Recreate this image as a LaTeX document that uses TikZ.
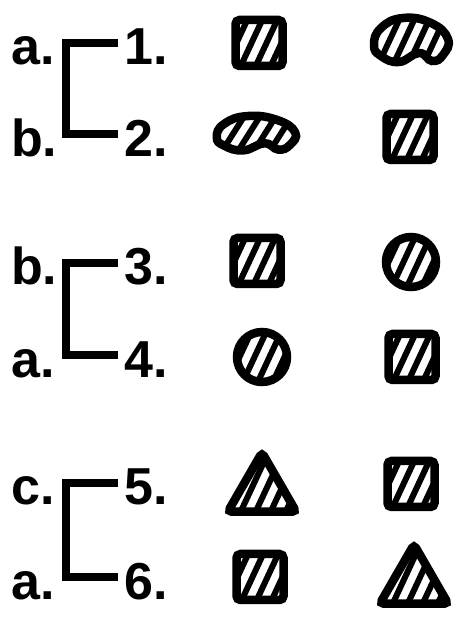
\documentclass[tikz,border=0pt]{standalone}
\usepackage{fontspec}
\setmainfont{Liberation Sans}
\usetikzlibrary{shapes.geometric}
\newcommand{\beanpath}{plot[smooth cycle, tension=0.8] coordinates {(-37,-4) (-30,13) (-8,23) (20,18) (37,2) (32,-14) (21,-20) (8,-12) (-12,-21) (-30,-15)}}

\begin{document}
\begin{tikzpicture}[x=1pt, y=1pt,
 lbl/.style={font=\fontsize{52}{52}\selectfont\bfseries, inner sep=0pt, anchor=base west},
 bracket/.style={line width=8.5pt, line join=miter},
 hatched/.style={draw, line width=8.5pt, fill=white, path picture={
   \foreach \k in {-4,...,3}
     \draw[line width=6pt] ([xshift={(\k+0.5)*15pt}]path picture bounding box.center) ++(245:60) -- ++(65:120);}},
 sq/.style={hatched, rectangle, rounded corners=4pt, minimum width=47pt, minimum height=46pt, inner sep=0pt},
 disc/.style={hatched, circle, minimum size=50pt, inner sep=0pt},
 tri/.style={hatched, regular polygon, regular polygon sides=3, rounded corners=4pt, minimum size=79pt, inner sep=0pt}]
\useasboundingbox (0,0) rectangle (458,625);

% pair 1
\node[lbl] (la1) at (11,560) {a.};
\node[lbl] (n1) at (124,560) {1.};
\node[lbl] (lb2) at (11,468) {b.};
\node[lbl] (n2) at (124,468) {2.};
\draw[bracket] ([shift={(-6,22)}]n1.base west) -| ([shift={(-58,23)}]n2.base west) -- ([shift={(-6,23)}]n2.base west);
\node[sq] (s1) at (259,582) {};
\draw[hatched, shift={(411,584)}] \beanpath;
\draw[hatched, shift={(256,491)}, xscale=1.06, yscale=0.78] \beanpath;
\node[sq] (s2) at (410,488) {};

% pair 2
\node[lbl] (lb3) at (11,340) {b.};
\node[lbl] (n3) at (124,340) {3.};
\node[lbl] (la4) at (11,247) {a.};
\node[lbl] (n4) at (124,247) {4.};
\draw[bracket] ([shift={(-6,22)}]n3.base west) -| ([shift={(-58,23)}]n4.base west) -- ([shift={(-6,23)}]n4.base west);
\node[sq] (s3) at (257,364) {};
\node[disc] (c3) at (411,363) {};
\node[disc] (c4) at (262,268) {};
\node[sq] (s4) at (412,268) {};

% pair 3
\node[lbl] (lc5) at (11,120) {c.};
\node[lbl] (n5) at (124,120) {5.};
\node[lbl] (la6) at (11,25) {a.};
\node[lbl] (n6) at (124,25) {6.};
\draw[bracket] ([shift={(-6,22)}]n5.base west) -| ([shift={(-58,23)}]n6.base west) -- ([shift={(-6,23)}]n6.base west);
\node[tri] (t5) at (262,133) {};
\node[sq] (s5) at (411,141) {};
\node[sq] (s6) at (260,48) {};
\node[tri] (t6) at (414,41) {};
\end{tikzpicture}
\end{document}
